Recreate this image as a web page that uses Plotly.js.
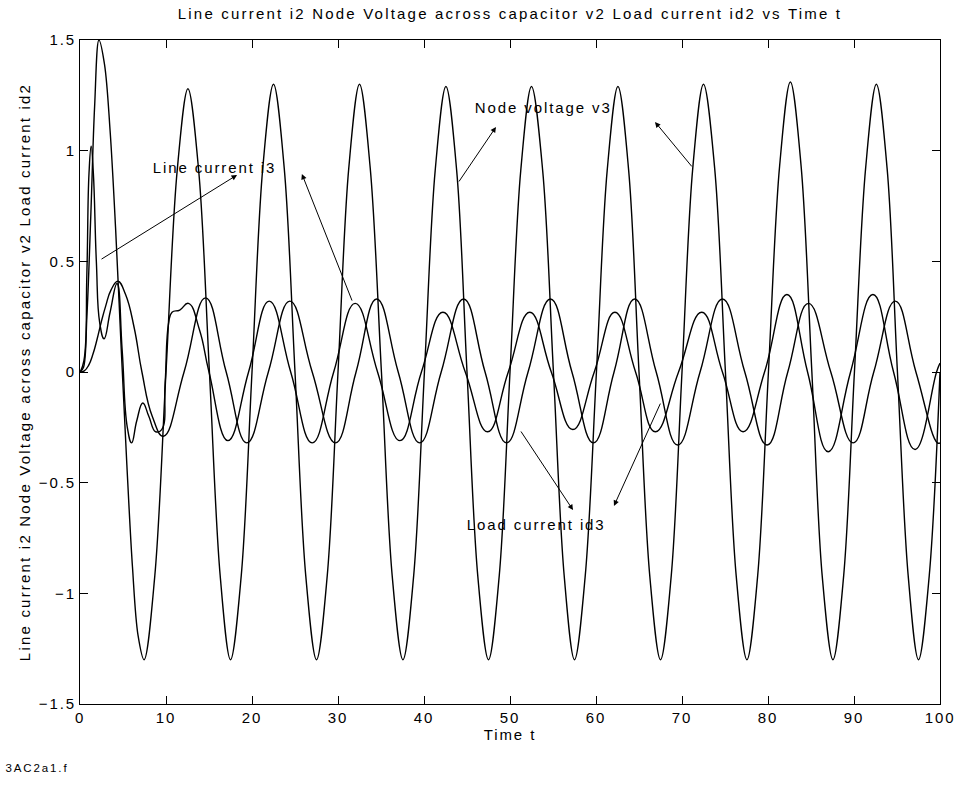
<!DOCTYPE html>
<html>
<head>
<meta charset="utf-8">
<script src="https://cdn.plot.ly/plotly-3.0.1.min.js"></script>
<style>
  html, body { margin: 0; padding: 0; background: #fff; }
  #chart { width: 964px; height: 793px; }
  .main-svg text { letter-spacing: 1.9px; }
  .main-svg text.gtitle, .main-svg text.ytitle { letter-spacing: 2.2px; }
</style>
</head>
<body>
<div id="chart"></div>
<script>
// ---- Data ----
// Node voltage (large oscillation)
const vT = [0,0.4,0.8,1.25,1.7,2.2,2.85,3.5,4.15,4.8,5.45,6.1,6.75,7.45,
  8.7,10.0,11.3,12.55,13.8,15.05,16.3,17.5,
  18.75,20.0,21.25,22.5,23.75,25.0,26.25,27.5,
  28.75,30.0,31.25,32.5,33.75,35.05,36.3,37.55,
  38.8,40.05,41.3,42.55,43.8,45.0,46.25,47.5,
  48.75,50.0,51.25,52.5,53.8,55.05,56.3,57.5,
  58.75,60.05,61.3,62.55,63.8,65.0,66.25,67.5,
  68.75,70.0,71.25,72.5,73.8,75.05,76.3,77.55,
  78.8,80.05,81.35,82.6,83.85,85.1,86.3,87.55,
  88.8,90.05,91.35,92.6,93.85,95.05,96.3,97.5,
  98.75,100];
const vY = [0,0.02,0.25,0.7,1.2,1.5,1.39,1.09,0.64,0.1,-0.42,-0.88,-1.19,-1.3,
  -0.92,0.0,0.91,1.28,0.91,0.0,-0.92,-1.3,
  -0.92,0.0,0.92,1.3,0.92,0.0,-0.92,-1.3,
  -0.92,0.0,0.92,1.3,0.92,0.0,-0.92,-1.3,
  -0.92,0.0,0.91,1.29,0.91,0.0,-0.92,-1.3,
  -0.92,0.0,0.91,1.29,0.91,0.0,-0.92,-1.3,
  -0.92,0.0,0.91,1.29,0.91,0.0,-0.92,-1.3,
  -0.92,0.0,0.92,1.3,0.92,0.0,-0.92,-1.3,
  -0.92,0.0,0.93,1.31,0.93,0.0,-0.92,-1.3,
  -0.92,0.0,0.92,1.3,0.92,0.0,-0.92,-1.3,
  -0.92,0.0];

// Line current (spike at start, then small oscillation)
const iT = [0,0.45,0.8,1.05,1.3,1.55,1.9,2.3,2.8,3.5,4.3,4.9,5.5,6.0,6.6,7.3,8.0,8.8,9.5,9.9,10.3,10.7,11.6,12.6,13.9,15.0,
  17.2,19.6,22.0,24.5,27.0,29.5,32.0,34.6,37.2,39.7,42.2,44.8,47.4,49.8,52.3,54.8,57.3,59.8,62.2,64.6,66.9,69.6,
  72.3,74.7,77.1,79.6,82.2,84.6,87.0,89.6,92.2,94.6,97.1,99.6,100];
const iY = [0,0.05,0.45,0.9,1.02,0.9,0.5,0.22,0.15,0.27,0.4,0.1,-0.25,-0.32,-0.22,-0.14,-0.2,-0.27,-0.26,-0.05,0.22,0.27,0.28,0.31,0.19,0.0,
  -0.31,0,0.32,0,-0.32,0,0.31,0,-0.31,0,0.27,0,-0.27,0,0.27,0,-0.26,0,0.27,0,-0.27,0,
  0.27,0,-0.27,0,0.35,0,-0.36,0,0.35,0,-0.35,0,0.04];

// Load current (smooth small oscillation)
const dT = [0,0.5,1.0,1.5,2.0,2.5,3.0,3.6,4.4,5.3,6.3,7.2,8.4,9.7,
  12.1,14.6,17.0,19.4,21.9,24.4,27.0,29.7,32.1,34.5,37.0,39.5,42.0,44.6,47.1,49.6,52.1,54.7,57.2,59.7,
  62.1,64.5,67.0,69.5,72.1,74.7,77.3,79.9,82.3,84.7,87.3,89.9,92.3,94.8,97.2,99.7,100];
const dY = [0,0.005,0.03,0.08,0.15,0.23,0.3,0.37,0.41,0.35,0.2,0.0,-0.2,-0.29,
  0,0.335,0,-0.32,0,0.32,0,-0.32,0,0.33,0,-0.32,0,0.33,0,-0.32,0,0.33,0,-0.32,
  0,0.33,0,-0.33,0,0.33,0,-0.33,0,0.31,0,-0.32,0,0.32,0,-0.32,-0.32];

// Labels and arrow annotations (data units)
const titleText = 'Line current i2 Node Voltage across capacitor v2 Load current id2 vs Time t';
const yTitle = 'Line current i2 Node Voltage across capacitor v2 Load current id2';
const xTitle = 'Time t';
const footerText = '3AC2a1.f';
const xTicks = [0,10,20,30,40,50,60,70,80,90,100];
const yTicks = [-1.5,-1,-0.5,0,0.5,1,1.5];
const labelTexts = ['Line current i3', 'Node voltage v3', 'Load current id3'];
const labelX = [15.6, 53.8, 53.0];
const labelY = [0.926, 1.197, -0.69];
// arrows: tail (ax, ay) -> head (x, y)
const arrowTailX = [2.33, 31.7, 43.95, 71.28, 51.16, 67.56];
const arrowTailY = [0.506, 0.316, 0.854, 0.922, -0.262, -0.136];
const arrowHeadX = [18.26, 25.8, 48.37, 66.86, 57.33, 62.09];
const arrowHeadY = [0.89, 0.895, 1.107, 1.13, -0.624, -0.605];

const lineStyle = {color: 'black', width: 1.4, shape: 'spline', smoothing: 1};
const traces = [
  {x: vT, y: vY, type: 'scatter', mode: 'lines', line: lineStyle, hoverinfo: 'skip'},
  {x: iT, y: iY, type: 'scatter', mode: 'lines', line: Object.assign({}, lineStyle, {smoothing: 1.3}), hoverinfo: 'skip'},
  {x: dT, y: dY, type: 'scatter', mode: 'lines', line: Object.assign({}, lineStyle, {smoothing: 1.3}), hoverinfo: 'skip'}
];

const font = {family: '"Liberation Sans", Arial, Helvetica, sans-serif', size: 15, color: 'black'};

const annotations = [];
for (let k = 0; k < labelTexts.length; k++) {
  annotations.push({x: labelX[k], y: labelY[k], xref: 'x', yref: 'y', text: labelTexts[k],
    showarrow: false, xanchor: 'center', yanchor: 'middle', font: font});
}
for (let k = 0; k < arrowTailX.length; k++) {
  annotations.push({x: arrowHeadX[k], y: arrowHeadY[k], ax: arrowTailX[k], ay: arrowTailY[k],
    xref: 'x', yref: 'y', axref: 'x', ayref: 'y', text: '', showarrow: true,
    arrowhead: 2, arrowsize: 1.1, arrowwidth: 1, arrowcolor: 'black', standoff: 0, startstandoff: 0});
}
// footer label, placed in paper units (plot area spans 80..940 px, 40..704 px)
annotations.push({x: (11 - 80) / 860, y: (704 - 768) / 664, xref: 'paper', yref: 'paper', text: footerText,
  showarrow: false, xanchor: 'left', yanchor: 'middle', font: {family: font.family, size: 11.5, color: 'black'}});

const axisCommon = {
  showline: true, linecolor: 'black', linewidth: 1, mirror: 'ticks',
  ticks: 'inside', ticklen: 8, tickwidth: 1, tickcolor: 'black',
  showgrid: false, zeroline: false, tickfont: font
};

const layout = {
  width: 964, height: 793,
  margin: {l: 80, r: 24, t: 40, b: 89},
  paper_bgcolor: 'white', plot_bgcolor: 'white',
  showlegend: false,
  font: font,
  title: {text: titleText, x: 510 / 964, xref: 'container', xanchor: 'center',
          y: 1 - 14 / 793, yref: 'container', yanchor: 'middle', font: font},
  xaxis: Object.assign({}, axisCommon, {range: [0, 100], tickvals: xTicks,
          title: {text: xTitle, font: font, standoff: 4}}),
  yaxis: Object.assign({}, axisCommon, {range: [-1.5, 1.5], tickvals: yTicks,
          title: {text: yTitle, font: font, standoff: 12}}),
  annotations: annotations
};

Plotly.newPlot('chart', traces, layout, {displayModeBar: false, staticPlot: true});
</script>
</body>
</html>
